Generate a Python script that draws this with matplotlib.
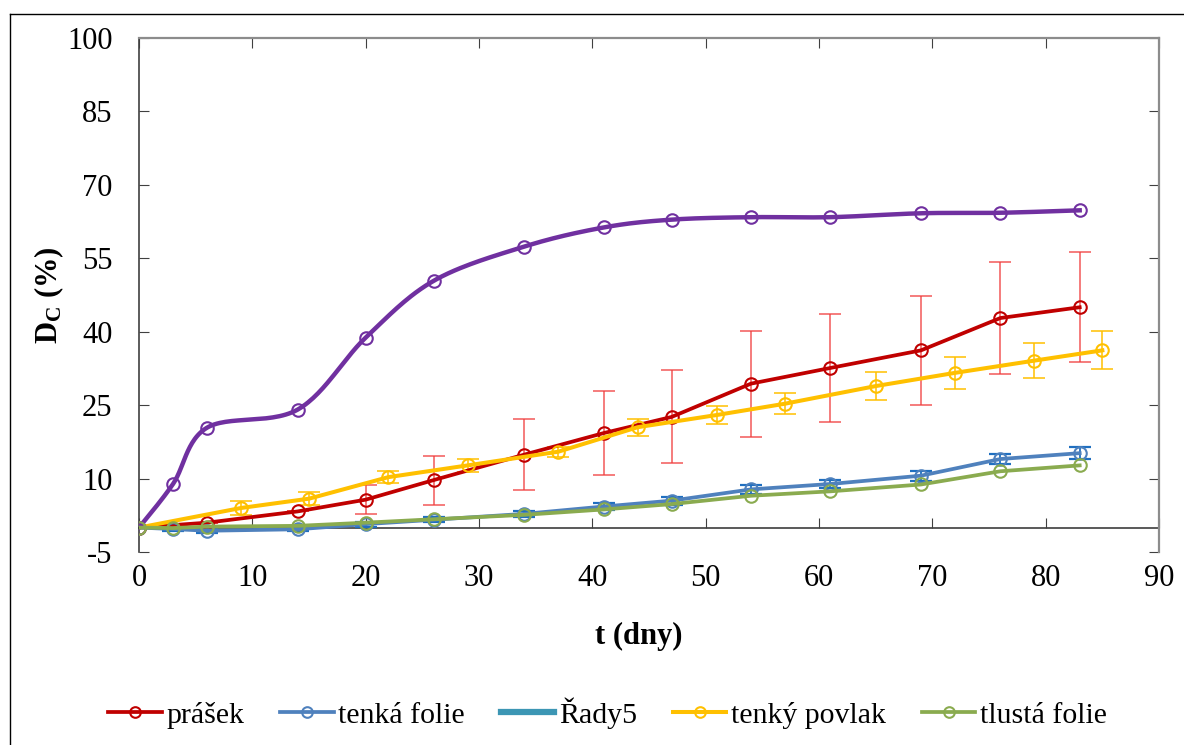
import numpy as np
import matplotlib
matplotlib.use("Agg")
import matplotlib.pyplot as plt
from matplotlib.lines import Line2D

plt.rcParams['font.family'] = ['Liberation Serif', 'DejaVu Serif']
plt.rcParams['mathtext.fontset'] = 'custom'
plt.rcParams['mathtext.rm'] = 'Liberation Serif'
plt.rcParams['mathtext.bf'] = 'Liberation Serif:bold'
plt.rcParams['axes.unicode_minus'] = False

# data (t in days, D_C in %)
t_main = [0, 6, 14, 20, 26, 34, 41, 47, 54, 61, 69, 76, 83]
prasek = [0, 1.0, 3.3, 5.7, 9.7, 14.9, 19.3, 22.6, 29.4, 32.6, 36.2, 42.8, 45.0]
prasek_err = [0, 0, 0, 2.9, 5.0, 7.2, 8.6, 9.5, 10.8, 11.0, 11.1, 11.4, 11.2]

t_folie = [0, 3, 6, 14, 20, 26, 34, 41, 47, 54, 61, 69, 76, 83]
tenka = [0, -0.3, -0.65, -0.35, 0.7, 1.6, 2.8, 4.3, 5.5, 7.8, 8.9, 10.6, 14.0, 15.2]
tenka_err = [0, 0.3, 0.4, 0.4, 0.5, 0.5, 0.6, 0.7, 0.8, 0.9, 0.9, 1.0, 1.1, 1.2]
tlusta = [0, -0.1, 0.2, 0.35, 1.0, 1.7, 2.6, 3.7, 4.8, 6.5, 7.4, 8.8, 11.5, 12.7]

t_povlak = [0, 9, 15, 22, 29, 37, 44, 51, 57, 65, 72, 79, 85]
povlak = [0, 4.0, 5.9, 10.3, 12.7, 15.5, 20.5, 23.0, 25.3, 28.9, 31.6, 34.1, 36.2]
povlak_err = [0, 1.4, 1.3, 1.2, 1.3, 1.0, 1.7, 1.9, 2.1, 2.8, 3.2, 3.6, 3.9]

t_fial = [0, 3, 6, 14, 20, 26, 34, 41, 47, 54, 61, 69, 76, 83]
fial = [0, 8.9, 20.4, 24.1, 38.8, 50.4, 57.4, 61.3, 62.9, 63.4, 63.4, 64.2, 64.3, 64.8]

xticks = np.arange(0, 91, 10)
yticks = np.arange(-5, 101, 15)


def smooth(x, y, sx=2.3, n=30):
    # Excel-like smoothed line (Catmull-Rom through the points)
    p = np.column_stack([np.asarray(x, float) * sx, np.asarray(y, float)])
    p = np.vstack([p[0], p, p[-1]])
    out = []
    s = np.linspace(0, 1, n)[:, None]
    for i in range(1, len(p) - 2):
        p0, p1, p2, p3 = p[i - 1], p[i], p[i + 1], p[i + 2]
        c1 = p1 + (p2 - p0) / 6.
        c2 = p2 - (p3 - p1) / 6.
        seg = ((1 - s) ** 3) * p1 + 3 * ((1 - s) ** 2) * s * c1 + 3 * (1 - s) * s ** 2 * c2 + s ** 3 * p2
        out.append(seg)
    out = np.vstack(out)
    return out[:, 0] / sx, out[:, 1]


fig = plt.figure(figsize=(11.84, 7.45), dpi=100)
ax = fig.add_axes([0.1174, 0.259, 0.8615, 0.690])

mk = dict(marker='o', markersize=9, markerfacecolor='none', markeredgewidth=1.5)

ax.errorbar(t_main, prasek, yerr=prasek_err, fmt='none', ecolor='#f03c3c', elinewidth=1.1,
            capsize=8, capthick=1.1, alpha=0.85, zorder=2)
l1, = ax.plot(t_main, prasek, color='#c00000', lw=2.7, markeredgecolor='#c00000', label='prášek', zorder=3, **mk)

ax.errorbar(t_folie, tenka, yerr=tenka_err, fmt='none', ecolor='#1f6fc0', elinewidth=1.3,
            capsize=8, capthick=1.6, zorder=2)
l2, = ax.plot(t_folie, tenka, color='#4f81bd', lw=2.7, markeredgecolor='#4f81bd', label='tenká folie', zorder=3, **mk)

l3, = ax.plot([], [], color='#3c96b4', lw=4.5, label='Řady5')

ax.errorbar(t_povlak, povlak, yerr=povlak_err, fmt='none', ecolor='#ffc000', elinewidth=1.1,
            capsize=8, capthick=1.1, zorder=2)
l4, = ax.plot(t_povlak, povlak, color='#ffc000', lw=2.9, markeredgecolor='#ffc000', label='tenký povlak', zorder=4, **mk)

l5, = ax.plot(t_folie, tlusta, color='#8aab4f', lw=2.7, markeredgecolor='#8aab4f', label='tlustá folie', zorder=5, **mk)

xs, ys = smooth(t_fial, fial)
ax.plot(xs, ys, color='#7030a0', lw=3.2, zorder=4)
ax.plot(t_fial, fial, ls='none', markeredgecolor='#7030a0', zorder=4, **mk)

ax.set_xlim(0, 90)
ax.set_ylim(-5, 100)
ax.set_xticks(xticks)
ax.set_yticks(yticks)

for side in ['top', 'right']:
    ax.spines[side].set_color('#8c8c8c')
    ax.spines[side].set_linewidth(1.6)
ax.spines['left'].set_color('#404040')
ax.spines['left'].set_linewidth(1.2)
ax.spines['bottom'].set_position(('data', 0))
ax.spines['bottom'].set_color('#595959')
ax.spines['bottom'].set_linewidth(1.4)
ax.spines['bottom'].set_zorder(1)

ax.tick_params(axis='both', direction='in', length=7, labelsize=22, top=True, right=True)
ax.tick_params(axis='x', pad=26, color='#404040')
ax.tick_params(axis='y', pad=19, color='#404040')
ax.tick_params(axis='x', which='both', top=True, labeltop=False)
ax.tick_params(axis='y', which='both', right=True, labelright=False)
for t in ax.xaxis.get_ticklines()[1::2] + ax.yaxis.get_ticklines()[1::2]:
    t.set_color('#8c8c8c')

ax.set_xlabel('t (dny)', fontsize=22, fontweight='bold')
ax.xaxis.set_label_coords(0.49, -0.135)
ax.set_ylabel(r'$\mathbf{D_C}$ (%)', fontsize=22, fontweight='bold')
ax.yaxis.set_label_coords(-0.072, 0.5)

fig.legend(handles=[l1, l2, l3, l4, l5], loc='center', bbox_to_anchor=(0.513, 0.043), ncol=5,
           frameon=False, fontsize=21.5, handlelength=1.8, handletextpad=0.15, columnspacing=1.2,
           markerscale=0.85)

# chart area border (left and top edges visible)
fig.add_artist(Line2D([10 / 1184, 10 / 1184], [0, 1 - 14 / 745], transform=fig.transFigure, color='black', lw=1))
fig.add_artist(Line2D([10 / 1184, 1], [1 - 14 / 745, 1 - 14 / 745], transform=fig.transFigure, color='black', lw=1))

fig.savefig('out.png', dpi=100)
